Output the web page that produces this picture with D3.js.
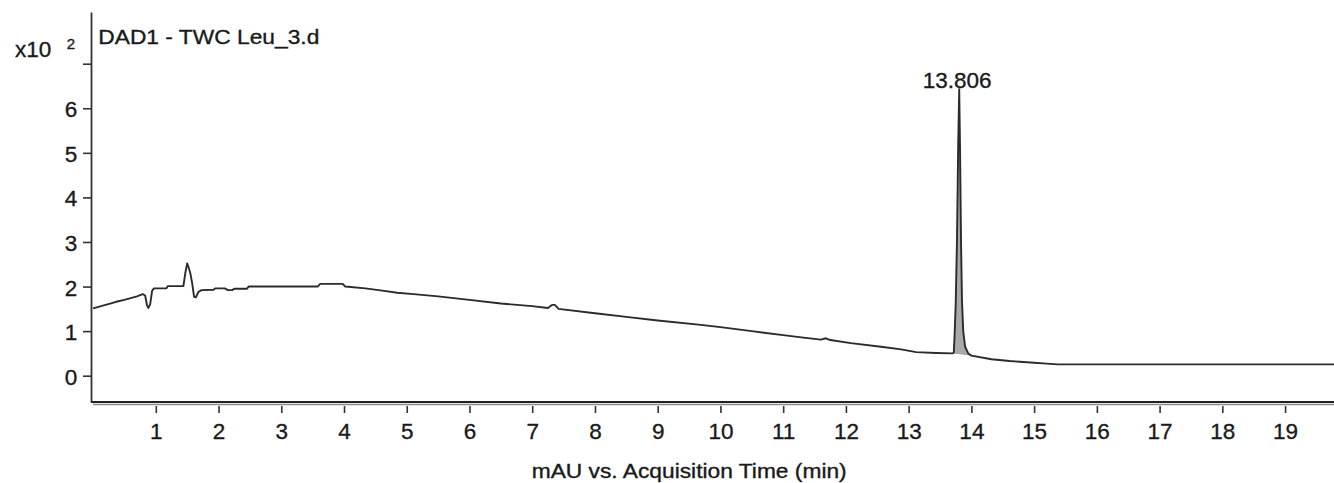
<!DOCTYPE html>
<html>
<head>
<meta charset="utf-8">
<script src="https://cdn.jsdelivr.net/npm/d3@7"></script>
<style>
  html, body { margin: 0; padding: 0; background: #fff; }
  svg { display: block; font-family: "Liberation Sans", Arial, Helvetica, sans-serif; }
  text { stroke: #1a1a1a; stroke-width: 0.35px; }
</style>
</head>
<body>
<svg id="chart" width="1334" height="483"></svg>
<script>
// ---- data (signal in units of x10^2 mAU, time in min) ----
const timeMin = [
  0.00, 0.10, 0.20, 0.30, 0.40, 0.50, 0.60, 0.70, 0.79, 0.83, 0.86, 0.88, 0.91, 0.94, 0.97,
  1.17, 1.19, 1.44, 1.47, 1.50, 1.53, 1.55, 1.58, 1.61, 1.64, 1.68, 1.73, 1.92, 1.95, 2.10,
  2.15, 2.22, 2.25, 2.45, 2.48, 3.58, 3.62, 3.98, 4.02, 4.34, 4.61, 4.85, 5.11, 5.50, 6.00,
  6.50, 7.00, 7.25, 7.32, 7.36, 7.42, 8.00, 8.50, 9.00, 9.69, 10.00, 10.50, 11.00, 11.29,
  11.60, 11.68, 11.75, 12.08, 12.56, 12.88, 13.12, 13.44, 13.70, 13.72, 13.735, 13.75,
  13.77, 13.79, 13.806, 13.82, 13.835, 13.85, 13.87, 13.90, 13.95, 14.00, 14.32, 14.61,
  15.00, 15.20, 15.38, 19.80
];
const signal = [
  1.51, 1.55, 1.59, 1.63, 1.67, 1.70, 1.74, 1.78, 1.83, 1.80, 1.58, 1.52, 1.60, 1.90, 1.96,
  1.96, 2.01, 2.01, 2.30, 2.52, 2.40, 2.30, 2.07, 1.77, 1.76, 1.88, 1.92, 1.93, 1.96, 1.96,
  1.92, 1.92, 1.95, 1.95, 2.00, 2.00, 2.06, 2.06, 2.00, 1.96, 1.91, 1.86, 1.83, 1.78, 1.70,
  1.62, 1.56, 1.52, 1.59, 1.59, 1.50, 1.40, 1.32, 1.24, 1.14, 1.09, 1.00, 0.91, 0.86,
  0.81, 0.84, 0.80, 0.73, 0.65, 0.59, 0.53, 0.51, 0.50, 0.52, 1.00, 1.60,
  3.00, 5.20, 6.43, 5.00, 3.00, 1.70, 1.00, 0.65, 0.50, 0.45, 0.37, 0.33,
  0.29, 0.27, 0.255, 0.255
];
// integrated peak (start / end of integration baseline)
const peakStart = 13.70;
const peakEnd = 14.00;
const peakLabel = "13.806";
const peakTime = 13.806;
const peakValue = 6.43;

const xTicks = [1,2,3,4,5,6,7,8,9,10,11,12,13,14,15,16,17,18,19];
const yTicks = [0,1,2,3,4,5,6,7];
const yTickLabels = ["0","1","2","3","4","5","6",""];
const titleText = "DAD1 - TWC Leu_3.d";
const xTitle = "mAU vs. Acquisition Time (min)";

// ---- layout ----
const svg = d3.select("#chart");
const mLeft = 91, mRight = 1334, mTop = 12, mBottom = 402;

const x = d3.scaleLinear().domain([-0.033, 19.78]).range([mLeft, mRight]);
const y = d3.scaleLinear().domain([-0.59, 8.16]).range([mBottom, mTop]);

const pts = timeMin.map((t, i) => ({ t, v: signal[i] }));

// peak fill
const baseAt = t => {
  const v0 = signal[timeMin.indexOf(peakStart)], v1 = signal[timeMin.indexOf(peakEnd)];
  return v0 + (v1 - v0) * (t - peakStart) / (peakEnd - peakStart);
};
const peakPts = pts.filter(d => d.t >= peakStart && d.t <= peakEnd);
svg.append("path")
  .datum(peakPts)
  .attr("fill", "#a9a9a9")
  .attr("stroke", "none")
  .attr("d", d3.area()
    .x(d => x(d.t))
    .y0(d => y(baseAt(d.t)))
    .y1(d => y(d.v)));

// trace
svg.append("path")
  .datum(pts)
  .attr("fill", "none")
  .attr("stroke", "#2b2b2b")
  .attr("stroke-width", 1.9)
  .attr("stroke-linejoin", "round")
  .attr("d", d3.line().x(d => x(d.t)).y(d => y(d.v)));

// ---- y axis ----
const yAxis = svg.append("g")
  .attr("transform", `translate(${mLeft},0)`)
  .call(d3.axisLeft(y).tickValues(yTicks)
    .tickFormat((d, i) => yTickLabels[i])
    .tickSize(8).tickSizeOuter(0).tickPadding(6));
yAxis.select(".domain").attr("stroke", "#333").attr("stroke-width", 1.8);
yAxis.selectAll(".tick line").attr("stroke", "#333").attr("stroke-width", 1.6);
yAxis.selectAll(".tick text")
  .attr("font-size", "22.5px").attr("fill", "#1a1a1a")
  .attr("x", -13.7).attr("dy", "0.38em")
  .attr("font-family", "Liberation Sans, Arial, sans-serif");

// ---- x axis ----
svg.append("line").attr("x1", mLeft).attr("x2", mRight).attr("y1", mBottom).attr("y2", mBottom)
  .attr("stroke", "#222").attr("stroke-width", 1.8);
svg.append("line").attr("x1", mLeft + 2).attr("x2", mRight).attr("y1", mBottom + 2.5).attr("y2", mBottom + 2.5)
  .attr("stroke", "#8a8a8a").attr("stroke-width", 1.6);
const xAxis = svg.append("g")
  .attr("transform", `translate(0,${mBottom + 4})`)
  .call(d3.axisBottom(x).tickValues(xTicks).tickFormat(d3.format("d")).tickSize(7).tickSizeOuter(0));
xAxis.select(".domain").remove();
xAxis.selectAll(".tick line").attr("stroke", "#333").attr("stroke-width", 1.6);
xAxis.selectAll(".tick text")
  .attr("font-size", "22.5px").attr("fill", "#1a1a1a")
  .attr("y", 33.3).attr("dy", null)
  .attr("font-family", "Liberation Sans, Arial, sans-serif");

// ---- texts ----
svg.append("text").attr("x", 15).attr("y", 56.7)
  .attr("font-size", "22.5px").attr("fill", "#1a1a1a").text("x10");
svg.append("text").attr("x", 66.7).attr("y", 49)
  .attr("font-size", "15px").attr("fill", "#1a1a1a").text("2");

svg.append("text").attr("x", 98.3).attr("y", 44.3)
  .attr("font-size", "21px").attr("fill", "#1a1a1a")
  .attr("textLength", 221).attr("lengthAdjust", "spacingAndGlyphs")
  .text(titleText);

svg.append("text").attr("x", 531.7).attr("y", 478.3)
  .attr("font-size", "19.5px").attr("fill", "#1a1a1a")
  .attr("textLength", 315).attr("lengthAdjust", "spacingAndGlyphs")
  .text(xTitle);

svg.append("text").attr("x", x(peakTime) - 2).attr("y", y(peakValue) - 1)
  .attr("text-anchor", "middle")
  .attr("font-size", "22.5px").attr("fill", "#1a1a1a")
  .text(peakLabel);
</script>
</body>
</html>
